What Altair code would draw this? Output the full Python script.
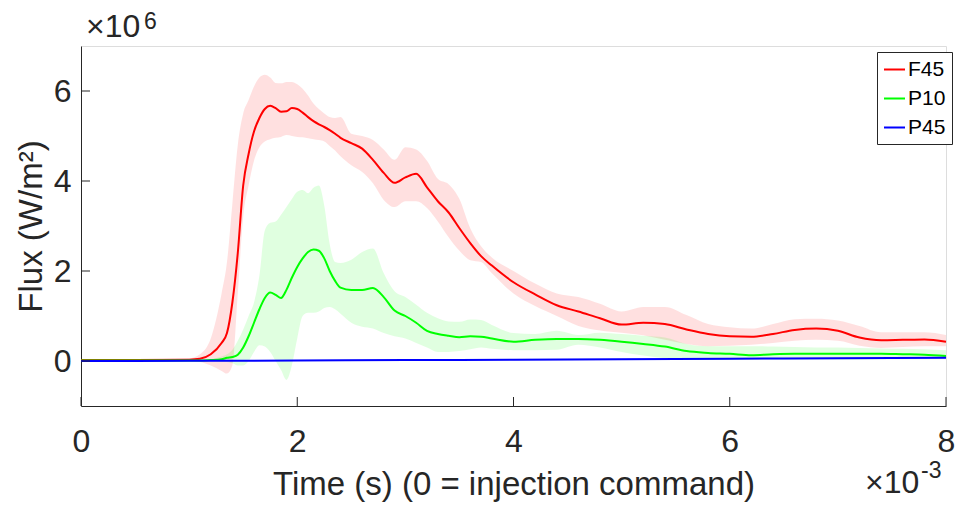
import altair as alt
import pandas as pd

# ---- data (time in ms, i.e. x10^-3 s ; flux in x10^6 W/m^2) ----
time_ms = [0, 0.5, 1.0, 1.1, 1.2, 1.3, 1.35, 1.4, 1.45, 1.5, 1.55, 1.6, 1.65, 1.7, 1.75,
           1.8, 1.85, 1.9, 1.95, 2.0, 2.05, 2.1, 2.15, 2.2, 2.25, 2.3, 2.35, 2.4, 2.5,
           2.6, 2.7, 2.8, 2.9, 3.0, 3.1, 3.2, 3.3, 3.4, 3.5, 3.6, 3.7, 3.8, 4.0, 4.2,
           4.4, 4.6, 4.8, 5.0, 5.2, 5.4, 5.6, 5.8, 6.0, 6.2, 6.4, 6.6, 6.8, 7.0, 7.2,
           7.4, 7.6, 7.8, 8.0]

f45_mean = [0.02, 0.02, 0.03, 0.05, 0.15, 0.4, 0.62, 1.3, 2.4, 3.9, 4.6, 5.1, 5.4, 5.6, 5.67,
            5.62, 5.54, 5.55, 5.62, 5.6, 5.52, 5.42, 5.33, 5.26, 5.2, 5.13, 5.05, 4.96, 4.84,
            4.72, 4.47, 4.18, 3.96, 4.08, 4.16, 3.86, 3.55, 3.3, 2.95, 2.62, 2.33, 2.12, 1.75, 1.48,
            1.24, 1.1, 0.95, 0.81, 0.85, 0.82, 0.7, 0.6, 0.55, 0.54, 0.6, 0.69, 0.72, 0.67, 0.52,
            0.46, 0.47, 0.48, 0.43]
f45_upper = [0.04, 0.04, 0.06, 0.15, 0.5, 1.5, 2.2, 3.5, 4.8, 5.5, 5.8, 6.1, 6.3, 6.36, 6.3,
             6.18, 6.17, 6.2, 6.2, 6.15, 6.05, 5.9, 5.72, 5.6, 5.5, 5.42, 5.4, 5.42, 5.05,
             5.0, 4.91, 4.7, 4.47, 4.75, 4.7, 4.45, 4.05, 3.93, 3.6, 2.95, 2.55, 2.3, 2.0, 1.72,
             1.5, 1.42, 1.27, 1.1, 1.2, 1.2, 1.02, 0.82, 0.75, 0.72, 0.82, 0.93, 0.94, 0.9, 0.78,
             0.64, 0.64, 0.64, 0.58]
f45_lower = [0.0, 0.0, 0.0, -0.02, -0.1, -0.22, -0.28, -0.1, 1.5, 3.2, 3.9, 4.45, 4.75, 4.88, 4.93,
             4.96, 4.98, 5.02, 5.0, 4.98, 4.97, 4.95, 4.93, 4.91, 4.88, 4.78, 4.68, 4.55, 4.35,
             4.2, 3.95, 3.58, 3.42, 3.55, 3.55, 3.4, 3.1, 2.75, 2.45, 2.24, 2.2, 1.95, 1.5, 1.22,
             1.0, 0.78, 0.68, 0.63, 0.57, 0.47, 0.38, 0.33, 0.34, 0.36, 0.4, 0.45, 0.47, 0.45, 0.34,
             0.29, 0.31, 0.33, 0.33]

p10_mean = [0.01, 0.01, 0.01, 0.01, 0.02, 0.04, 0.07, 0.09, 0.14, 0.3, 0.55, 0.85, 1.15, 1.4, 1.52,
            1.47, 1.4, 1.58, 1.85, 2.09, 2.28, 2.42, 2.48, 2.45, 2.28, 2.0, 1.78, 1.63, 1.58,
            1.58, 1.62, 1.42, 1.12, 1.0, 0.85, 0.67, 0.6, 0.56, 0.53, 0.55, 0.54, 0.5, 0.43, 0.47,
            0.49, 0.49, 0.47, 0.43, 0.38, 0.32, 0.22, 0.18, 0.16, 0.13, 0.15, 0.16, 0.16, 0.16, 0.16,
            0.16, 0.15, 0.14, 0.11]
p10_upper = [0.02, 0.02, 0.02, 0.02, 0.04, 0.1, 0.15, 0.25, 0.45, 0.7, 1.0, 1.3, 1.9, 2.9, 3.07,
             3.1, 3.25, 3.42, 3.6, 3.76, 3.8, 3.73, 3.85, 3.9, 3.45, 2.6, 2.2, 2.18, 2.25,
             2.42, 2.5, 1.95, 1.55, 1.42, 1.25, 1.07, 0.95, 0.88, 0.87, 0.92, 0.91, 0.8, 0.62, 0.6,
             0.67, 0.58, 0.63, 0.6, 0.56, 0.52, 0.38, 0.33, 0.33, 0.33, 0.32, 0.31, 0.3, 0.3, 0.29,
             0.28, 0.27, 0.26, 0.24]
p10_lower = [0.0, 0.0, 0.0, 0.0, 0.0, -0.02, -0.02, -0.05, -0.1, -0.1, 0.0, 0.2, 0.35, 0.32, 0.2,
             0.0, -0.2, -0.42, -0.1, 0.5, 1.0, 1.07, 1.07, 1.1, 1.18, 1.2, 1.15, 1.05, 0.85,
             0.76, 0.72, 0.62, 0.55, 0.5, 0.4, 0.3, 0.2, 0.2, 0.22, 0.26, 0.3, 0.27, 0.24, 0.24,
             0.25, 0.36, 0.3, 0.2, 0.12, 0.06, 0.03, 0.02, 0.02, 0.02, 0.03, 0.03, 0.03, 0.03, 0.03,
             0.04, 0.04, 0.04, 0.04]

p45_time = [0, 1, 2, 3, 4, 5, 6, 7, 8]
p45_mean = [0.0, 0.005, 0.01, 0.02, 0.03, 0.04, 0.05, 0.06, 0.07]
p45_upper = [0.01, 0.015, 0.025, 0.035, 0.045, 0.055, 0.065, 0.075, 0.085]
p45_lower = [-0.01, -0.005, 0.0, 0.005, 0.015, 0.025, 0.035, 0.045, 0.055]

series_names = ["F45", "P10", "P45"]
series_colors = ["#ff0000", "#00ff00", "#0000ff"]

x_ticks = [0, 2, 4, 6, 8]
y_ticks = [0, 2, 4, 6]

# ---- tables ----
frames = []
for name, t, m, u, l in [("F45", time_ms, f45_mean, f45_upper, f45_lower),
                         ("P10", time_ms, p10_mean, p10_upper, p10_lower),
                         ("P45", p45_time, p45_mean, p45_upper, p45_lower)]:
    frames.append(pd.DataFrame({"t": t, "mean": m, "upper": u, "lower": l, "series": name}))
df = pd.concat(frames, ignore_index=True)

FONT = "Liberation Sans"
AX = "#262626"
W, H = 865, 360

xs = alt.Scale(domain=[0, 8], nice=False, zero=False)
ys = alt.Scale(domain=[-1, 7], nice=False, zero=False)

x_enc = alt.X("t:Q", scale=xs, axis=alt.Axis(
    values=x_ticks, format="d", ticks=False, grid=False, domainColor=AX, domainWidth=1,
    labelFontSize=32, labelColor=AX, labelPadding=20, labelFont=FONT, labelFlush=False,
    title="Time (s) (0 = injection command)", titleFontSize=33, titleFont=FONT,
    titleFontWeight="normal", titleColor=AX, titleY=88, titleBaseline="alphabetic"))
y_axis = alt.Axis(
    values=y_ticks, format="d", ticks=False, grid=False, domainColor=AX, domainWidth=1,
    labelFontSize=32, labelColor=AX, labelPadding=10, labelFont=FONT, labelFlush=False,
    title="Flux (W/m²)", titleFontSize=33, titleFont=FONT, titleFontWeight="normal",
    titleColor=AX, titleX=-40, titleBaseline="alphabetic")

base = alt.Chart(df)

band_layers = []
for i, (name, col) in enumerate(zip(series_names, series_colors)):
    enc = dict(
        x=x_enc if i == 0 else alt.X("t:Q"),
        y=alt.Y("lower:Q", scale=ys, axis=y_axis) if i == 0 else alt.Y("lower:Q"),
        y2="upper:Q",
        fill=alt.value(col),
    )
    band_layers.append(
        base.transform_filter(alt.datum.series == name)
        .mark_area(interpolate="monotone", fillOpacity=0.12)
        .encode(**enc)
    )

lines = base.mark_line(interpolate="monotone", strokeWidth=2).encode(
    x="t:Q",
    y="mean:Q",
    color=alt.Color("series:N", scale=alt.Scale(domain=series_names, range=series_colors),
                    legend=alt.Legend(title=None, orient="none", legendX=796, legendY=6,
                                      symbolType="stroke", symbolSize=441, symbolStrokeWidth=2,
                                      labelFontSize=21, labelFont=FONT, labelColor="#000000",
                                      padding=6, rowPadding=7, labelOffset=2,
                                      strokeColor=AX, fillColor="#ffffff")),
)

xt = alt.Chart(pd.DataFrame({"t": x_ticks})).mark_rule(color=AX, strokeWidth=1).encode(
    x="t:Q", y=alt.value(H), y2=alt.value(H - 9))
yt = alt.Chart(pd.DataFrame({"v": y_ticks})).mark_rule(color=AX, strokeWidth=1).encode(
    y="v:Q", x=alt.value(0), x2=alt.value(9))

txt = pd.DataFrame({"s": ["×10"]})
e6a = alt.Chart(txt).mark_text(align="left", baseline="alphabetic", font=FONT, fontSize=32,
                               color=AX).encode(text="s:N", x=alt.value(5), y=alt.value(-9))
e6b = alt.Chart(pd.DataFrame({"s": ["6"]})).mark_text(align="left", baseline="alphabetic", font=FONT,
                               fontSize=23, color=AX).encode(text="s:N", x=alt.value(63), y=alt.value(-17))
e3a = alt.Chart(txt).mark_text(align="left", baseline="alphabetic", font=FONT, fontSize=32,
                               color=AX).encode(text="s:N", x=alt.value(784), y=alt.value(447))
e3b = alt.Chart(pd.DataFrame({"s": ["-3"]})).mark_text(align="left", baseline="alphabetic", font=FONT,
                               fontSize=23, color=AX).encode(text="s:N", x=alt.value(840), y=alt.value(432))

chart = alt.layer(*band_layers, lines, xt, yt, e6a, e6b, e3a, e3b).properties(
    width=W, height=H,
    autosize=alt.AutoSizeParams(type="none"),
    padding={"left": 73, "top": 38, "right": 9, "bottom": 96},
).configure_view(stroke=None).configure(background="white")

chart.save("out.html", embed_options={"renderer": "svg", "actions": False})
